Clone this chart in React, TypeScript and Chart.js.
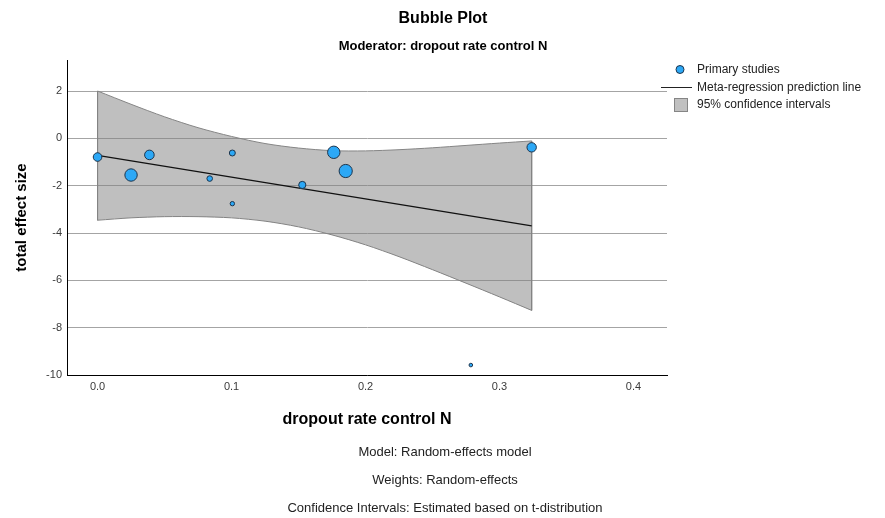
import React, { useEffect, useRef } from 'react';
import { Chart, registerables } from 'chart.js';

Chart.register(...registerables);

// ---- Data ----
const studyX = [0.0, 0.025, 0.0387, 0.0837, 0.1006, 0.1006, 0.1528, 0.1763, 0.1852, 0.2786, 0.324];
const studyY = [-0.79, -1.55, -0.70, -1.70, -0.62, -2.76, -1.97, -0.59, -1.38, -9.58, -0.38];
const studyR = [4.3, 6.2, 4.8, 2.8, 3.0, 2.2, 3.6, 6.2, 6.6, 1.8, 4.7];

const lineX = [0.0, 0.324];
const lineY = [-0.72, -3.70];

const ciX = [0, 0.025, 0.05, 0.075, 0.1, 0.125, 0.15, 0.175, 0.2, 0.225, 0.25, 0.275, 0.3, 0.324];
const ciUpper = [2.0, 1.44, 0.91, 0.45, 0.08, -0.22, -0.41, -0.52, -0.53, -0.48, -0.40, -0.30, -0.20, -0.11];
const ciLower = [-3.46, -3.36, -3.31, -3.31, -3.36, -3.50, -3.74, -4.08, -4.50, -5.00, -5.55, -6.12, -6.70, -7.27];

const yTicks = [2, 0, -2, -4, -6, -8, -10];
const xTicks = [0.0, 0.1, 0.2, 0.3, 0.4];

const TITLE = 'Bubble Plot';
const SUBTITLE = 'Moderator: dropout rate control N';
const X_TITLE = 'dropout rate control N';
const Y_TITLE = 'total effect size';
const LEGEND = ['Primary studies', 'Meta-regression prediction line', '95% confidence intervals'];
const FOOTNOTES = [
  'Model: Random-effects model',
  'Weights: Random-effects',
  'Confidence Intervals: Estimated based on t-distribution',
];

const FONT = '"Liberation Sans", Arial, Helvetica, sans-serif';
const BUBBLE_FILL = 'rgb(44,168,246)';
const BUBBLE_BORDER = 'rgb(28,52,76)';
const BAND_FILL = 'rgba(128,128,128,0.5)';
const BAND_EDGE = '#858585';

const textPlugin = {
  id: 'spssTexts',
  afterDraw(chart: any) {
    const ctx = chart.ctx as CanvasRenderingContext2D;
    ctx.save();
    ctx.textAlign = 'center';
    ctx.textBaseline = 'middle';
    ctx.fillStyle = '#000';
    ctx.font = `bold 16px ${FONT}`;
    ctx.fillText(TITLE, 443, 19);
    ctx.font = `bold 13px ${FONT}`;
    ctx.fillText(SUBTITLE, 443, 46);

    ctx.fillStyle = '#222';
    ctx.font = `13px ${FONT}`;
    const fy = [452, 480, 508];
    FOOTNOTES.forEach((t, i) => ctx.fillText(t, 445, fy[i]));

    // legend
    ctx.textAlign = 'left';
    ctx.font = `12px ${FONT}`;
    ctx.fillStyle = '#222';
    ctx.fillText(LEGEND[0], 697, 70);
    ctx.fillText(LEGEND[1], 697, 87.5);
    ctx.fillText(LEGEND[2], 697, 105);

    ctx.beginPath();
    ctx.arc(680, 69.5, 4, 0, Math.PI * 2);
    ctx.fillStyle = BUBBLE_FILL;
    ctx.fill();
    ctx.lineWidth = 1;
    ctx.strokeStyle = BUBBLE_BORDER;
    ctx.stroke();

    ctx.beginPath();
    ctx.moveTo(661, 87.5);
    ctx.lineTo(692, 87.5);
    ctx.strokeStyle = '#222';
    ctx.stroke();

    ctx.fillStyle = '#c0c0c0';
    ctx.fillRect(674.5, 98.5, 13, 13);
    ctx.strokeStyle = BAND_EDGE;
    ctx.strokeRect(674.5, 98.5, 13, 13);
    ctx.restore();
  },
};

export default function App() {
  const ref = useRef<HTMLCanvasElement | null>(null);

  useEffect(() => {
    if (!ref.current) return;
    const bubbles = studyX.map((x, i) => ({ x, y: studyY[i], r: studyR[i] }));
    const reg = lineX.map((x, i) => ({ x, y: lineY[i] }));
    const upper = ciX.map((x, i) => ({ x, y: ciUpper[i] }));
    const lower = ciX.map((x, i) => ({ x, y: ciLower[i] }));
    const last = ciX.length - 1;
    const leftEdge = [
      { x: ciX[0], y: ciUpper[0] },
      { x: ciX[0], y: ciLower[0] },
    ];
    const rightEdge = [
      { x: ciX[last], y: ciUpper[last] },
      { x: ciX[last], y: ciLower[last] },
    ];

    const chart = new Chart(ref.current, {
      type: 'line',
      data: {
        datasets: [
          {
            type: 'bubble',
            label: LEGEND[0],
            data: bubbles,
            backgroundColor: BUBBLE_FILL,
            borderColor: BUBBLE_BORDER,
            borderWidth: 1,
          } as any,
          {
            type: 'line',
            label: LEGEND[1],
            data: reg,
            borderColor: '#111',
            borderWidth: 1.2,
            pointRadius: 0,
            fill: false,
          },
          {
            type: 'line',
            label: LEGEND[2],
            data: upper,
            borderColor: BAND_EDGE,
            borderWidth: 1,
            backgroundColor: BAND_FILL,
            pointRadius: 0,
            tension: 0.3,
            fill: '+1',
          },
          {
            type: 'line',
            label: 'lower',
            data: lower,
            borderColor: BAND_EDGE,
            borderWidth: 1,
            pointRadius: 0,
            tension: 0.3,
            fill: false,
          },
          {
            type: 'line',
            label: 'leftEdge',
            data: leftEdge,
            borderColor: BAND_EDGE,
            borderWidth: 1,
            pointRadius: 0,
            fill: false,
          },
          {
            type: 'line',
            label: 'rightEdge',
            data: rightEdge,
            borderColor: BAND_EDGE,
            borderWidth: 1,
            pointRadius: 0,
            fill: false,
          },
        ],
      },
      options: {
        animation: false,
        responsive: false,
        events: [],
        layout: { padding: { top: 60, right: 218, left: 0, bottom: 0 } },
        plugins: {
          legend: { display: false },
          tooltip: { enabled: false },
          title: { display: false },
        },
        scales: {
          x: {
            type: 'linear',
            min: -0.0228,
            max: 0.425,
            afterBuildTicks: (s: any) => {
              s.ticks = xTicks.map((v) => ({ value: v }));
            },
            afterFit: (s: any) => {
              s.height = 143;
            },
            grid: { display: false, drawTicks: false },
            border: { display: true, color: '#000', width: 1 },
            ticks: {
              padding: 5,
              color: '#3a3a3a',
              font: { family: FONT, size: 11 },
              callback: (v: any) => Number(v).toFixed(1),
            },
            title: {
              display: true,
              text: X_TITLE,
              color: '#000',
              font: { family: FONT, size: 16, weight: 'bold' },
              padding: { top: 0, bottom: 89 },
            },
          },
          y: {
            type: 'linear',
            min: -10,
            max: 3.31,
            afterBuildTicks: (s: any) => {
              s.ticks = yTicks.map((v) => ({ value: v }));
            },
            afterFit: (s: any) => {
              s.width = 67;
            },
            grid: { display: true, color: '#a4a4a4', lineWidth: 1, drawTicks: false },
            border: { display: true, color: '#000', width: 1 },
            ticks: {
              padding: 5,
              color: '#3a3a3a',
              font: { family: FONT, size: 11 },
              callback: (v: any) => String(v),
            },
            title: {
              display: true,
              text: Y_TITLE,
              color: '#000',
              font: { family: FONT, size: 15, weight: 'bold' },
              padding: { top: 13, bottom: 0 },
            },
          },
        },
      } as any,
      plugins: [textPlugin],
    });
    return () => chart.destroy();
  }, []);

  return (
    <div style={{ position: 'fixed', left: 0, top: 0, width: 885, height: 518, background: '#fff' }}>
      <canvas ref={ref} width={885} height={518} style={{ display: 'block', width: 885, height: 518 }} />
    </div>
  );
}
